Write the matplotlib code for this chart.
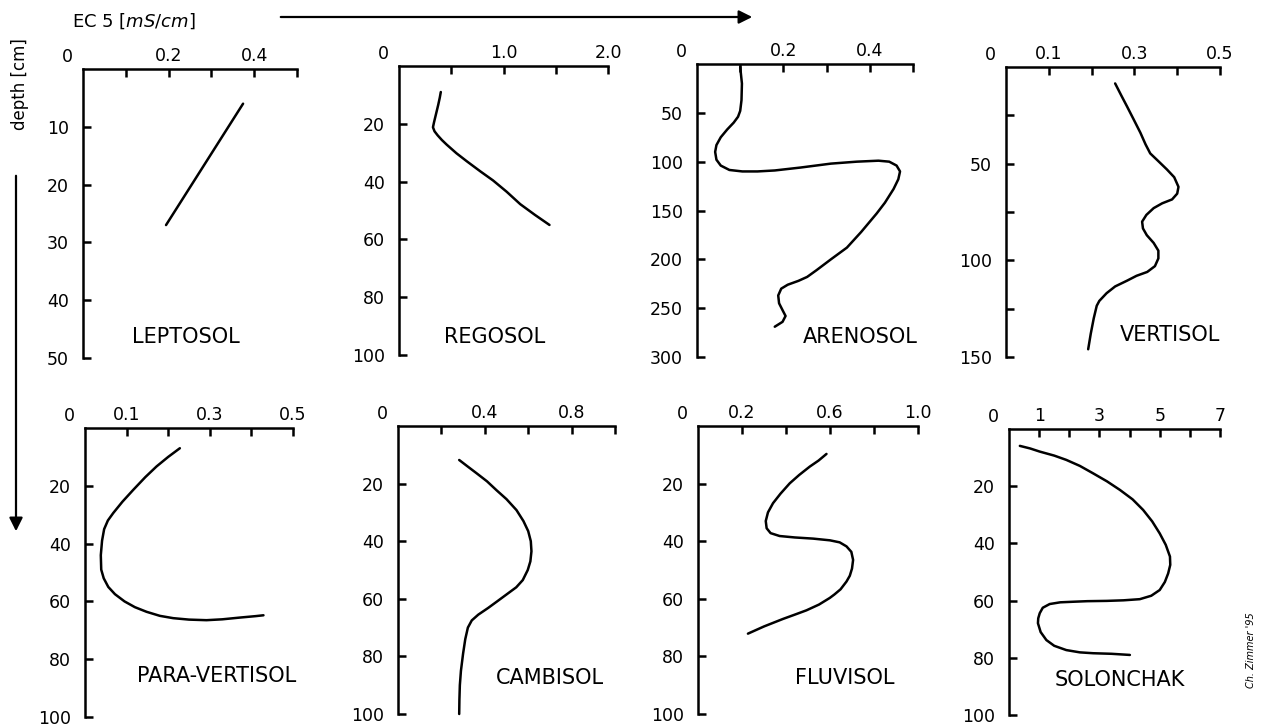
import matplotlib
matplotlib.use("Agg")
import matplotlib.pyplot as plt
from matplotlib.patches import FancyArrowPatch

plt.rcParams['font.family'] = ['DejaVu Sans']
plt.rcParams['mathtext.fontset'] = 'dejavusans'

W, H = 1265, 727

# ---------------- data ----------------
names = ["LEPTOSOL", "REGOSOL", "ARENOSOL", "VERTISOL",
         "PARA-VERTISOL", "CAMBISOL", "FLUVISOL", "SOLONCHAK"]

leptosol_ec = [0.374, 0.194]
leptosol_depth = [6, 27]

regosol_ec = [0.40, 0.39, 0.375, 0.355, 0.335, 0.325, 0.34, 0.37, 0.41, 0.456,
              0.55, 0.65, 0.78, 0.90, 1.03, 1.16, 1.30, 1.44]
regosol_depth = [9, 11, 13.5, 16.5, 19.5, 21.2, 22.6, 24, 25.6, 27.2,
                 30.2, 33, 36.5, 39.6, 43.5, 47.8, 51.5, 55]

arenosol_ec = [0.10, 0.104, 0.103, 0.100, 0.095, 0.085, 0.070, 0.055, 0.045, 0.042,
               0.045, 0.055, 0.075, 0.105, 0.14, 0.18, 0.24, 0.31, 0.37, 0.42,
               0.445, 0.462, 0.47, 0.466, 0.455, 0.435, 0.416, 0.38, 0.347, 0.31,
               0.277, 0.255, 0.235, 0.21, 0.195, 0.188, 0.19, 0.198, 0.205, 0.198, 0.18]
arenosol_depth = [3, 20, 37, 48, 54, 60, 67, 75, 83, 90,
                  98, 104, 108.5, 110, 110, 109, 106, 102, 100, 99,
                  100, 104, 110, 118, 128, 142, 153, 172, 188, 200,
                  211, 218, 222, 226, 230, 237, 245, 252, 258, 264, 269]

vertisol_ec = [0.255, 0.27, 0.283, 0.298, 0.314, 0.326, 0.337, 0.355, 0.376, 0.393,
               0.403, 0.400, 0.388, 0.365, 0.345, 0.328, 0.318, 0.320, 0.329, 0.345,
               0.356, 0.356, 0.348, 0.330, 0.305, 0.283, 0.255, 0.235, 0.218, 0.212,
               0.205, 0.198, 0.192]
vertisol_depth = [8.5, 15, 20.5, 27, 34, 40, 44.7, 48.5, 53, 57,
                  62, 65.5, 68.5, 70.5, 73, 76.5, 80, 83.5, 87, 91,
                  95, 99, 103, 106, 108, 110.5, 113.5, 117, 121, 123.5,
                  130, 138, 146]

paravertisol_ec = [0.228, 0.20, 0.172, 0.145, 0.116, 0.09, 0.068, 0.055, 0.046, 0.041,
                   0.038, 0.039, 0.045, 0.056, 0.072, 0.095, 0.12, 0.148, 0.18, 0.212,
                   0.25, 0.292, 0.33, 0.372, 0.41, 0.429]
paravertisol_depth = [7, 10, 13.3, 17, 21.4, 25.5, 29.4, 32, 35, 39,
                      44, 49, 52, 55, 57.5, 60, 62, 63.6, 65, 65.8,
                      66.3, 66.5, 66.2, 65.6, 65.1, 64.8]

cambisol_ec = [0.282, 0.32, 0.362, 0.41, 0.454, 0.50, 0.546, 0.578, 0.60, 0.612,
               0.615, 0.61, 0.598, 0.575, 0.545, 0.50, 0.455, 0.415, 0.37, 0.34,
               0.322, 0.31, 0.30, 0.29, 0.285, 0.283, 0.282]
cambisol_depth = [11.8, 14, 16.4, 19.2, 22.3, 25.4, 29.2, 33, 36.5, 40,
                  43.5, 47, 50, 53.5, 56, 58.5, 61, 63.2, 65.5, 67.5,
                  70, 74, 79, 85, 90, 95, 100]

fluvisol_ec = [0.584, 0.548, 0.508, 0.46, 0.417, 0.375, 0.341, 0.318, 0.308, 0.312,
               0.33, 0.371, 0.44, 0.523, 0.60, 0.644, 0.675, 0.697, 0.705, 0.70,
               0.69, 0.675, 0.648, 0.62, 0.599, 0.55, 0.493, 0.44, 0.386, 0.30, 0.227]
fluvisol_depth = [9.7, 12, 14.1, 17, 19.9, 23.5, 26.8, 30, 33, 35.5,
                  37.2, 38.2, 38.7, 39.1, 39.7, 40.4, 41.8, 43.7, 46.5, 49.5,
                  52, 54, 56.7, 58.5, 59.7, 62, 64, 65.5, 67, 69.6, 72.1]

solonchak_ec = [0.36, 0.7, 1.02, 1.5, 1.9, 2.35, 2.79, 3.25, 3.68, 4.1,
                4.45, 4.75, 5.0, 5.2, 5.34, 5.35, 5.28, 5.17, 5.0, 4.72,
                4.34, 3.8, 3.24, 2.6, 2.13, 1.7, 1.35, 1.12, 1.02, 0.97,
                0.96, 1.05, 1.24, 1.5, 1.9, 2.35, 2.79, 3.4, 4.01]
solonchak_depth = [5.9, 6.8, 7.9, 9.3, 10.8, 12.9, 15.5, 18.3, 21.3, 24.6,
                   28.3, 32.3, 36.5, 40.5, 44.6, 47.5, 50.5, 53.5, 56.3, 58.3,
                   59.5, 59.9, 60.1, 60.2, 60.4, 60.6, 61.2, 62.5, 64.4, 66.2,
                   67.9, 71, 73.8, 75.8, 77.3, 78.1, 78.4, 78.6, 79]

ec_series = [leptosol_ec, regosol_ec, arenosol_ec, vertisol_ec,
             paravertisol_ec, cambisol_ec, fluvisol_ec, solonchak_ec]
depth_series = [leptosol_depth, regosol_depth, arenosol_depth, vertisol_depth,
                paravertisol_depth, cambisol_depth, fluvisol_depth, solonchak_depth]

x_max = [0.5, 2.0, 0.5, 0.5, 0.5, 1.0, 1.0, 7]
x_ticks = [[0.1, 0.2, 0.3, 0.4, 0.5],
           [0.5, 1.0, 1.5, 2.0],
           [0.1, 0.2, 0.3, 0.4, 0.5],
           [0.1, 0.2, 0.3, 0.4, 0.5],
           [0.1, 0.2, 0.3, 0.4, 0.5],
           [0.2, 0.4, 0.6, 0.8, 1.0],
           [0.2, 0.4, 0.6, 0.8, 1.0],
           [1, 2, 3, 4, 5, 6, 7]]
x_labels = [["", "0.2", "", "0.4", ""],
            ["", "1.0", "", "2.0"],
            ["", "0.2", "", "0.4", ""],
            ["0.1", "", "0.3", "", "0.5"],
            ["0.1", "", "0.3", "", "0.5"],
            ["", "0.4", "", "0.8", ""],
            ["0.2", "", "0.6", "", "1.0"],
            ["1", "", "3", "", "5", "", "7"]]
y_max = [50, 100, 300, 150, 100, 100, 100, 100]
y_ticks = [[10, 20, 30, 40, 50],
           [20, 40, 60, 80, 100],
           [50, 100, 150, 200, 250, 300],
           [25, 50, 75, 100, 125, 150],
           [20, 40, 60, 80, 100],
           [20, 40, 60, 80, 100],
           [20, 40, 60, 80, 100],
           [20, 40, 60, 80, 100]]
y_labels = [["10", "20", "30", "40", "50"],
            ["20", "40", "60", "80", "100"],
            ["50", "100", "150", "200", "250", "300"],
            ["", "50", "", "100", "", "150"],
            ["20", "40", "60", "80", "100"],
            ["20", "40", "60", "80", "100"],
            ["20", "40", "60", "80", "100"],
            ["20", "40", "60", "80", "100"]]

# ---------------- layout (pixels) ----------------
boxes = [(83, 69, 297, 358), (399, 66, 608, 355), (697, 64, 913, 357), (1006, 67, 1220, 357),
         (85, 428, 293, 717), (398, 426, 615, 714), (698, 426, 918, 714), (1009, 429, 1220, 715)]
name_pos = [(186, 337), (495, 337), (860, 337), (1170, 335),
            (217, 676), (550, 678), (845, 678), (1120, 680)]

fig = plt.figure(figsize=(W / 100, H / 100), dpi=100)

LW = 1.8
for i in range(8):
    l, t, r, b = boxes[i]
    ax = fig.add_axes([l / W, 1 - b / H, (r - l) / W, (b - t) / H])
    ax.patch.set_alpha(0)
    ax.set_xlim(0, x_max[i])
    ax.set_ylim(y_max[i], 0)
    for s in ("right", "bottom"):
        ax.spines[s].set_visible(False)
    for s in ("top", "left"):
        ax.spines[s].set_linewidth(LW)
    ax.xaxis.tick_top()
    ax.set_xticks(x_ticks[i])
    ax.set_xticklabels(x_labels[i])
    ax.set_yticks(y_ticks[i])
    ax.set_yticklabels(y_labels[i])
    ax.tick_params(axis="x", direction="in", length=6, width=LW, pad=3, labelsize=12.5)
    ax.tick_params(axis="y", direction="in", length=6, width=LW, pad=10, labelsize=12.5)
    ax.plot(ec_series[i], depth_series[i], color="black", lw=LW,
            solid_joinstyle="round", solid_capstyle="round", clip_on=False)
    ax.annotate("0", xy=(0, 1), xycoords="axes fraction", xytext=(-11.5, 8.5),
                textcoords="offset points", ha="center", va="center", fontsize=12.5)

# overlay in pixel coordinates
ov = fig.add_axes([0, 0, 1, 1])
ov.set_xlim(0, W)
ov.set_ylim(H, 0)
ov.axis("off")
ov.patch.set_alpha(0)

for i in range(8):
    ov.text(name_pos[i][0], name_pos[i][1], names[i], ha="center", va="center", fontsize=15)

ov.text(72, 21, r"EC 5 [$\mathit{mS/cm}$]", ha="left", va="center", fontsize=13)

ov.add_patch(FancyArrowPatch((278, 17), (755, 17), arrowstyle="-|>", mutation_scale=20,
                             lw=1.6, color="black"))
ov.text(20, 84, "depth [cm]", rotation=90, ha="center", va="center", fontsize=12)
ov.add_patch(FancyArrowPatch((16, 173), (16, 534), arrowstyle="-|>", mutation_scale=20,
                             lw=1.6, color="black"))
ov.text(1251, 650, "Ch. Zimmer '95", rotation=90, ha="center", va="center", fontsize=7,
        style="italic")

fig.savefig("out.png", dpi=100)
